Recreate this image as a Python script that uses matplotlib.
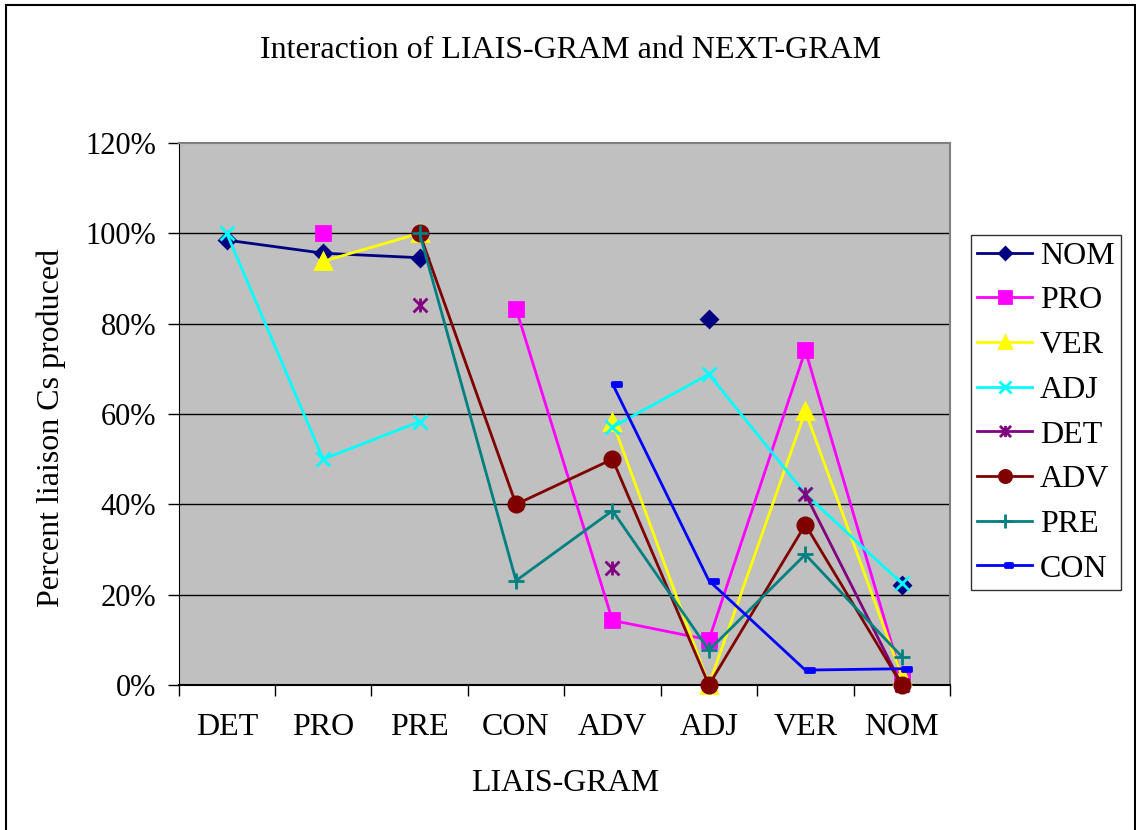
import numpy as np
import matplotlib
matplotlib.use('Agg')
import matplotlib.pyplot as plt
from matplotlib.path import Path
from matplotlib.patches import Rectangle

nan = np.nan

# LIAIS-GRAM categories on the x axis
categories = ['DET', 'PRO', 'PRE', 'CON', 'ADV', 'ADJ', 'VER', 'NOM']

# percent liaison Cs produced, one list per NEXT-GRAM (nan = no data)
nom = [98.5, 95.6, 94.6, nan, nan, 81.0, nan, 22.2]
pro = [nan, 100.0, nan, 83.3, 14.3, 10.0, 74.1, 1.5]
ver = [nan, 93.8, 100.0, nan, 58.3, 0.0, 60.6, 2.0]
adj = [100.0, 50.0, 58.3, nan, 57.1, 68.8, 42.3, 22.5]
det = [nan, nan, 84.2, nan, 25.9, nan, 42.3, 0.0]
adv = [nan, nan, 100.0, 40.0, 50.0, 0.0, 35.5, 0.0]
pre = [nan, nan, 100.0, 23.1, 38.6, 7.7, 28.9, 6.3]
con = [nan, nan, nan, nan, 66.7, 23.1, 3.3, 3.6]

yticks = [0, 20, 40, 60, 80, 100, 120]
ytick_labels = ['0%', '20%', '40%', '60%', '80%', '100%', '120%']

font = 'Liberation Serif'
fs = 23

# excel-like markers
asterisk = Path([(-1, -1), (1, 1), (-1, 1), (1, -1), (0, -1), (0, 1)],
                [Path.MOVETO, Path.LINETO, Path.MOVETO, Path.LINETO, Path.MOVETO, Path.LINETO])
dash = Path([(0, -0.22), (1, -0.22), (1, 0.22), (0, 0.22), (0, -0.22)],
            [Path.MOVETO, Path.LINETO, Path.LINETO, Path.LINETO, Path.CLOSEPOLY])

series = [
  ('NOM', nom, '#000080', 'D', 8),
  ('PRO', pro, '#FF00FF', 's', 10),
  ('VER', ver, '#FFFF00', '^', 11),
  ('ADJ', adj, '#00FFFF', 'x', 10),
  ('DET', det, '#800080', asterisk, 10),
  ('ADV', adv, '#800000', 'o', 11),
  ('PRE', pre, '#008080', '+', 12),
  ('CON', con, '#0000FF', dash, 13),
]

W, H = 1136, 830
fig = plt.figure(figsize=(W/100, H/100), dpi=100)
fig.patches.append(Rectangle((6/W, -0.01), 1129/W, 1 - 5/H + 0.01, transform=fig.transFigure,
                             fill=False, edgecolor='black', linewidth=1.5))

ax = fig.add_axes([178.5/W, 1 - 685/H, 771.5/W, 542/H])
ax.set_facecolor('#C0C0C0')

x = np.arange(len(categories))
for name, vals, col, mk, ms in series:
  ax.plot(x, vals, color=col, lw=2, marker=mk, markersize=ms,
          markerfacecolor=col, markeredgecolor=col, markeredgewidth=2,
          label=name, clip_on=False, zorder=3)

ax.set_xlim(-0.5, len(categories) - 0.5)
ax.set_ylim(0, 120)

ax.set_yticks(yticks)
ax.set_yticklabels(ytick_labels, fontsize=22, family=font)
ax.set_xticks(np.arange(len(categories) + 1) - 0.5)
ax.set_xticklabels([])
ax.set_xticks(x, minor=True)
ax.set_xticklabels(categories, minor=True, fontsize=fs, family=font)
ax.tick_params(axis='x', which='minor', length=0, pad=20)
ax.tick_params(axis='x', which='major', length=8, width=1, direction='out')
ax.tick_params(axis='y', length=8, width=1, direction='out', pad=8)

for v in yticks[1:-1]:
  ax.axhline(v, color='black', lw=1, zorder=1)

for side in ['top', 'right']:
  ax.spines[side].set_color('#808080')
  ax.spines[side].set_linewidth(1.5)
ax.spines['left'].set_color('black')
ax.spines['bottom'].set_color('black')
ax.spines['bottom'].set_linewidth(1.5)

fig.text(571/W, 1 - 50/H, 'Interaction of LIAIS-GRAM and NEXT-GRAM', ha='center', va='center',
         fontsize=fs, family=font)
fig.text(565/W, 1 - 783/H, 'LIAIS-GRAM', ha='center', va='center', fontsize=fs, family=font)
fig.text(51/W, 1 - 428/H, 'Percent liaison Cs produced', ha='center', va='center',
         rotation=90, fontsize=fs, family=font)

leg = fig.legend(loc='upper left', bbox_to_anchor=(971/W, 1 - 235/H), borderaxespad=0,
                 prop={'family': font, 'size': fs}, frameon=True, fancybox=False,
                 edgecolor='black', handlelength=1.7, handletextpad=0.25,
                 labelspacing=0.48, borderpad=0.2, markerscale=0.8)
leg.get_frame().set_linewidth(1)

fig.savefig('out.png', dpi=100)
